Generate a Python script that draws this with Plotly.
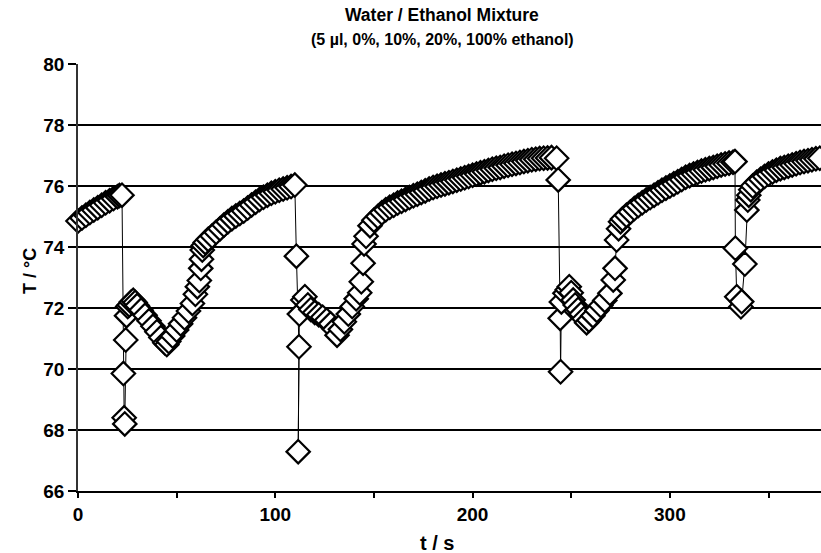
import plotly.graph_objects as go

# Segment data (time in s, temperature in °C)
heat1_t = [0, 2, 4, 6, 8, 10, 12, 14, 16, 18, 20, 21, 22.3]
heat1_T = [74.85, 74.95, 75.04, 75.13, 75.21, 75.29, 75.37, 75.45, 75.52, 75.59, 75.65, 75.69, 75.70]

drop1_t = [23.0, 23.4, 23.7, 24.2, 24.6, 25.2, 26, 27, 28, 29, 30, 32, 34, 36, 38, 40, 42, 44, 45,
           46, 48, 50, 52, 54, 56, 58, 59.5, 60.5, 61.5, 62.2, 62.6, 63.0]
drop1_T = [69.85, 68.40, 68.20, 70.95, 71.75, 72.05, 72.10, 72.20, 72.25, 72.18, 72.08, 71.93, 71.76,
           71.58, 71.40, 71.22, 71.03, 70.86, 70.80, 70.90, 71.08, 71.28, 71.48, 71.68, 71.90, 72.15,
           72.45, 72.70, 72.90, 73.30, 73.60, 73.90]

heat2_t = [63.5, 64.5, 66, 68, 70, 72, 74, 76, 78, 80, 82, 84, 86, 88, 90, 92, 94, 96, 98, 100,
           102, 104, 106, 108, 109.9]
heat2_T = [74.05, 74.15, 74.25, 74.36, 74.48, 74.60, 74.72, 74.83, 74.93, 75.02, 75.10, 75.18, 75.28,
           75.38, 75.47, 75.56, 75.63, 75.70, 75.76, 75.81, 75.86, 75.90, 75.94, 75.98, 76.03]

drop2_t = [110.7, 112.0, 111.6, 112.2, 114, 115, 116.5, 118, 120, 122, 124, 126, 128, 130, 131.3,
           133, 135, 137, 139, 141, 142.8, 143.6, 144.5, 145]
drop2_T = [73.70, 70.73, 67.29, 71.80, 72.26, 72.37, 72.10, 71.95, 71.85, 71.78, 71.70, 71.60, 71.48,
           71.30, 71.11, 71.30, 71.55, 71.80, 72.05, 72.30, 72.50, 72.86, 73.47, 74.10]

heat3_t = [146, 148, 150, 152, 154, 156, 158, 160, 162, 164, 166, 168, 170, 172, 174, 176, 178, 180,
           182, 184, 186, 188, 190, 192, 194, 196, 198, 200, 202, 204, 206, 208, 210, 212, 214, 216,
           218, 220, 222, 224, 226, 228, 230, 232, 234, 236, 238, 240, 242.6]
heat3_T = [74.35, 74.70, 74.88, 75.00, 75.12, 75.22, 75.30, 75.37, 75.44, 75.50, 75.56, 75.62, 75.68,
           75.73, 75.79, 75.84, 75.90, 75.95, 75.99, 76.03, 76.07, 76.11, 76.15, 76.19, 76.23, 76.27,
           76.31, 76.35, 76.39, 76.43, 76.47, 76.51, 76.55, 76.58, 76.61, 76.65, 76.68, 76.71, 76.74,
           76.77, 76.80, 76.83, 76.86, 76.88, 76.90, 76.91, 76.92, 76.93, 76.91]

drop3_t = [243.4, 244.4, 244.6, 245.0, 246.8, 248, 249, 250, 251, 252, 253.5, 255, 256.5, 257.8,
           259, 261, 263, 265, 267, 269.6, 271.3, 272.2, 273.0]
drop3_T = [76.20, 71.66, 69.91, 72.20, 72.48, 72.60, 72.70, 72.50, 72.26, 72.10, 71.95, 71.80, 71.65,
           71.52, 71.60, 71.75, 71.92, 72.08, 72.25, 72.48, 72.92, 73.30, 74.23]

heat4_t = [274, 275, 276, 278, 280, 282, 284, 286, 288, 290, 292, 294, 296, 298, 300, 302, 304, 306,
           308, 310, 312, 314, 316, 318, 320, 322, 324, 326, 328, 330, 332, 333]
heat4_T = [74.60, 74.83, 74.92, 75.04, 75.15, 75.26, 75.36, 75.45, 75.54, 75.62, 75.70, 75.78, 75.86,
           75.93, 76.00, 76.07, 76.14, 76.21, 76.29, 76.34, 76.39, 76.44, 76.49, 76.53, 76.57, 76.61,
           76.65, 76.69, 76.72, 76.75, 76.78, 76.80]

drop4_t = [333.2, 333.9, 336.0, 336.4, 338.0, 339.0, 339.5, 340.0]
drop4_T = [73.96, 72.37, 72.04, 72.21, 73.44, 75.21, 75.54, 75.70]

heat5_t = [341, 342, 344, 346, 348, 350, 352, 354, 356, 358, 360, 362, 364, 366, 368, 370, 372, 374,
           376, 378]
heat5_T = [75.88, 76.00, 76.12, 76.22, 76.31, 76.39, 76.46, 76.52, 76.57, 76.61, 76.65, 76.69, 76.73,
           76.77, 76.80, 76.83, 76.86, 76.89, 76.91, 76.93]

x_tick_vals = [0, 50, 100, 150, 200, 250, 300, 350]
x_tick_text = ["0", "", "100", "", "200", "", "300", ""]
y_tick_vals = [66, 68, 70, 72, 74, 76, 78, 80]

time_s = heat1_t + drop1_t + heat2_t + drop2_t + heat3_t + drop3_t + heat4_t + drop4_t + heat5_t
temp_C = heat1_T + drop1_T + heat2_T + drop2_T + heat3_T + drop3_T + heat4_T + drop4_T + heat5_T

FONT = "Liberation Sans, Arial, sans-serif"

fig = go.Figure()
fig.add_trace(go.Scatter(
    x=time_s, y=temp_C, mode="lines+markers",
    line=dict(color="black", width=1),
    marker=dict(symbol="diamond", size=18, color="white",
                line=dict(color="black", width=2.2)),
    cliponaxis=False, showlegend=False,
))

PLOT_L, PLOT_T, PLOT_W, PLOT_H = 78, 64, 743, 427

def px_x(px):
    return (px - PLOT_L) / PLOT_W

def px_y(py):
    return 1 - (py - PLOT_T) / PLOT_H

annos = [
    dict(text="<b>Water / Ethanol Mixture</b>", x=px_x(442), y=px_y(15),
         font=dict(family=FONT, size=17.5, color="black")),
    dict(text="<b>(5 \u00b5l, 0%, 10%, 20%, 100% ethanol)</b>", x=px_x(442), y=px_y(40),
         font=dict(family=FONT, size=16, color="black")),
    dict(text="<b>t / s</b>", x=px_x(437), y=px_y(543),
         font=dict(family=FONT, size=20, color="black")),
    dict(text="<b>T / \u00b0C</b>", x=px_x(30), y=px_y(271), textangle=-90,
         font=dict(family=FONT, size=18, color="black")),
]
for a in annos:
    a.update(xref="paper", yref="paper", xanchor="center", yanchor="middle", showarrow=False)

fig.update_layout(
    width=821, height=553,
    margin=dict(l=PLOT_L, r=0, t=PLOT_T, b=553 - PLOT_T - PLOT_H),
    paper_bgcolor="white", plot_bgcolor="white",
    font=dict(family=FONT, color="black"),
    annotations=annos,
    xaxis=dict(
        range=[0, 376.6], tickvals=x_tick_vals, ticktext=x_tick_text,
        ticks="outside", ticklen=5, tickwidth=1.5, tickcolor="black",
        showline=True, linecolor="black", linewidth=1.6,
        showgrid=False, zeroline=False,
        tickfont=dict(family=FONT, size=19, weight="bold"),
    ),
    yaxis=dict(
        range=[66, 80], tickvals=y_tick_vals,
        ticks="outside", ticklen=8, tickwidth=1.5, tickcolor="black",
        showline=True, linecolor="#333333", linewidth=1.5,
        showgrid=True, gridcolor="black", gridwidth=1.5, zeroline=False,
        tickfont=dict(family=FONT, size=19, weight="bold"),
    ),
)

fig.write_html("out.html")
